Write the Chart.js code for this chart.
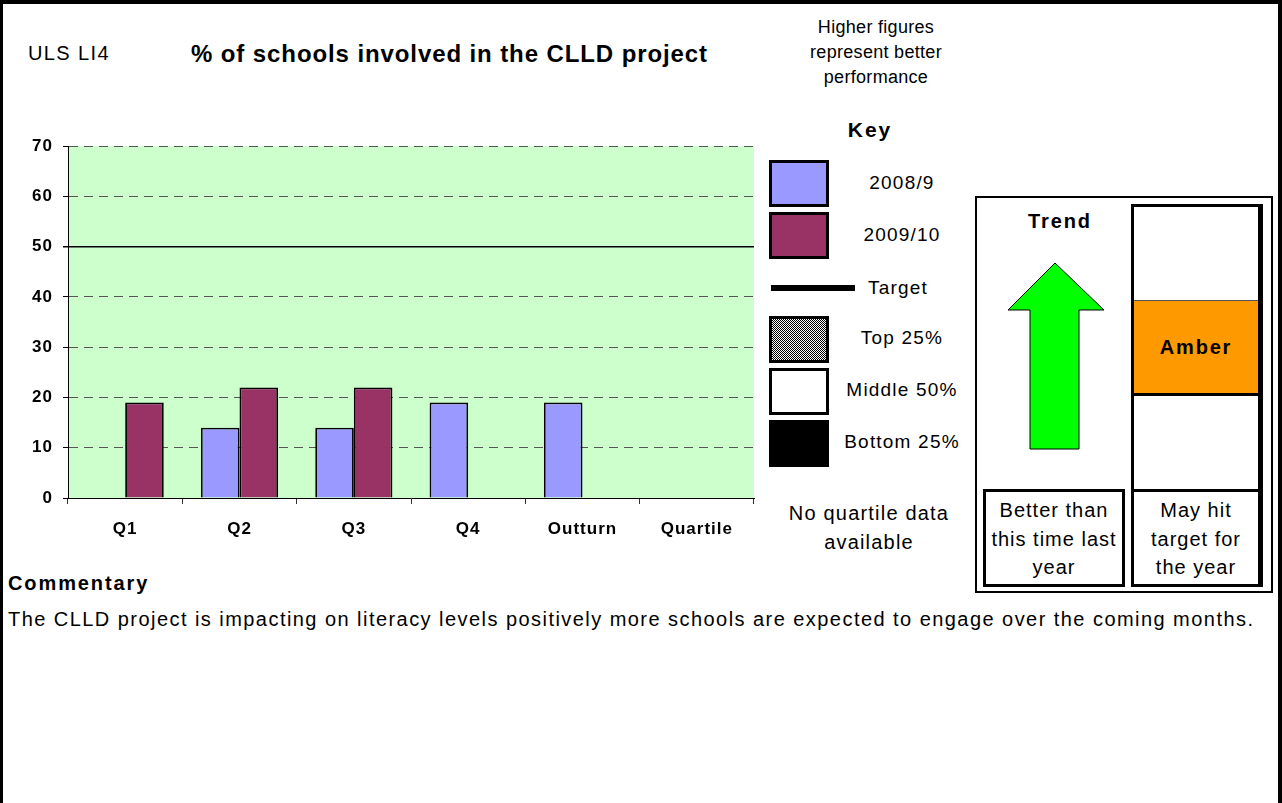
<!DOCTYPE html>
<html>
<head>
<meta charset="utf-8">
<script src="https://cdn.jsdelivr.net/npm/chart.js@4.4.0/dist/chart.umd.min.js"></script>
<style>
body{margin:0;width:1282px;height:803px;position:relative;background:#fff;font-family:"Liberation Sans",Arial,sans-serif;overflow:hidden}
#frame{position:absolute;left:0;top:0;width:1282px;height:803px;box-sizing:border-box;border-top:4px solid #000;border-left:3px solid #000;border-right:4px solid #000}
.t{position:absolute;white-space:nowrap;color:#000}
.c{text-align:center}
.k{font-size:19px;line-height:24px;letter-spacing:1.2px}
.sw{position:absolute;left:769px;width:60px;height:47px;box-sizing:border-box;border:3px solid #000}
#chartbox{position:absolute;left:0;top:126px;width:760px;height:420px}
.box{position:absolute;box-sizing:border-box;border:2px solid #000;background:#fff}
</style>
</head>
<body>
<div id="frame"></div>

<div class="t" style="left:28px;top:41px;font-size:20px;line-height:24px;letter-spacing:1.4px">ULS LI4</div>
<div class="t" style="left:191px;top:40px;font-size:24px;line-height:28px;font-weight:bold;letter-spacing:0.9px">% of schools involved in the CLLD project</div>
<div class="t c" style="left:776px;width:200px;top:15px;font-size:18px;line-height:25px;letter-spacing:0.3px">Higher figures<br>represent better<br>performance</div>

<div id="chartbox"><canvas id="mycanvas" width="760" height="420"></canvas></div>

<!-- key -->
<div class="t c" style="left:820px;width:100px;top:117px;font-size:21px;line-height:25px;font-weight:bold;letter-spacing:2px">Key</div>
<div class="sw" style="top:160px;background:#9999FF"></div>
<div class="sw" style="top:212px;background:#993366"></div>
<div style="position:absolute;left:771px;top:285px;width:84px;height:6px;background:#000"></div>
<div class="sw" style="top:316px;background-color:#fff;background-image:repeating-conic-gradient(#000 0 25%,#fff 0 50%);background-size:2px 2px"></div>
<div class="sw" style="top:368px;background:#fff"></div>
<div class="sw" style="top:420px;background:#000"></div>
<div class="t c k" style="left:832px;width:140px;top:171px">2008/9</div>
<div class="t c k" style="left:832px;width:140px;top:223px">2009/10</div>
<div class="t c k" style="left:832px;width:132px;top:276px">Target</div>
<div class="t c k" style="left:832px;width:140px;top:326px">Top 25%</div>
<div class="t c k" style="left:832px;width:140px;top:378px">Middle 50%</div>
<div class="t c k" style="left:832px;width:140px;top:430px">Bottom 25%</div>
<div class="t c" style="left:769px;width:200px;top:499px;font-size:20px;line-height:29px;letter-spacing:1.2px">No quartile data<br>available</div>

<!-- trend / status -->
<div class="box" style="left:975px;top:196px;width:298px;height:397px"></div>
<div class="t c" style="left:990px;width:140px;top:209px;font-size:20px;line-height:24px;font-weight:bold;letter-spacing:1.9px">Trend</div>
<svg style="position:absolute;left:1000px;top:255px" width="115" height="205">
  <polygon points="55,8 104,55 79,55 79,194 30,194 30,55 8,55" fill="#00FF00" stroke="#000" stroke-width="1"/>
</svg>
<div class="box" style="left:1131px;top:204px;width:132px;height:288px;border-width:3px;border-right-width:5px"></div>
<div style="position:absolute;left:1134px;top:300px;width:124px;height:96px;box-sizing:border-box;background:#FF9900;border-top:1px solid #555;border-bottom:3px solid #000"></div>
<div class="t c" style="left:1134px;width:124px;top:335px;font-size:20px;line-height:24px;font-weight:bold;letter-spacing:1.8px">Amber</div>
<div class="box" style="left:983px;top:489px;width:142px;height:98px;border-width:3px"></div>
<div class="box" style="left:1131px;top:489px;width:132px;height:98px;border-width:3px;border-right-width:5px"></div>
<div class="t c" style="left:983px;width:142px;top:496px;font-size:20px;line-height:28.5px;letter-spacing:1px">Better than<br>this time last<br>year</div>
<div class="t c" style="left:1131px;width:130px;top:496px;font-size:20px;line-height:28.5px;letter-spacing:1px">May hit<br>target for<br>the year</div>

<div class="t" style="left:8px;top:571px;font-size:20px;line-height:24px;font-weight:bold;letter-spacing:1.9px">Commentary</div>
<div class="t" style="left:8px;top:607px;font-size:20px;line-height:24px;letter-spacing:1.45px">The CLLD project is impacting on literacy levels positively more schools are expected to engage over the coming months.</div>

<script>
var categories = ["Q1", "Q2", "Q3", "Q4", "Outturn", "Quartile"];
var year0809 = [null, 14, 14, 19, 19, null];
var year0910 = [19, 22, 22, null, null, null];
var target = 50;
var yMin = 0;
var yMax = 70;
var yStep = 10;

var plotBg = {
	id: 'plotBg',
	beforeDraw: function(chart) {
		var a = chart.chartArea;
		chart.ctx.letterSpacing = '1px';
		chart.ctx.save();
		chart.ctx.fillStyle = '#CCFFCC';
		chart.ctx.fillRect(a.left, a.top, a.right - a.left, a.bottom - a.top);
		chart.ctx.restore();
	}
};

var chartdata = {
	labels: categories,
	datasets: [
		{
			label: "2008/9",
			backgroundColor: "#9999FF",
			borderColor: "#000",
			borderWidth: 1.8,
			categoryPercentage: 0.675,
			barPercentage: 1,
			data: year0809
		},
		{
			label: "2009/10",
			backgroundColor: "#993366",
			borderColor: "#000",
			borderWidth: 1.8,
			categoryPercentage: 0.675,
			barPercentage: 1,
			data: year0910
		}
	]
};

var ctx = document.getElementById('mycanvas');

var BarGraph = new Chart(ctx, {
	type: 'bar',
	data: chartdata,
	plugins: [plotBg],
	options: {
		responsive: false,
		animation: false,
		layout: { padding: { top: 20, right: 6, left: 0, bottom: 0 } },
		plugins: { legend: { display: false }, tooltip: { enabled: false } },
		scales: {
			x: {
				afterFit: function(s) { s.height = 48; },
				grid: { offset: true, drawOnChartArea: false, tickLength: 6, tickColor: '#333', tickWidth: 1 },
				border: { display: true, color: '#000', width: 1 },
				ticks: { color: '#000', padding: 15, font: { family: '"Liberation Sans", Arial', size: 17, weight: 'bold' } }
			},
			y: {
				min: yMin,
				max: yMax,
				afterFit: function(s) { s.width = 68; },
				grid: {
					color: function(c) { return c.tick && c.tick.value === target ? '#000' : '#555'; },
					lineWidth: function(c) { return c.tick && c.tick.value === target ? 1.5 : 1; },
					tickColor: '#000',
					tickLength: 5
				},
				border: {
					display: true, color: '#000', width: 1,
					dash: function(c) { return c.tick && c.tick.value !== target ? [9, 6] : []; }
				},
				ticks: { stepSize: yStep, color: '#000', padding: 10, font: { family: '"Liberation Sans", Arial', size: 17, weight: 'bold' } }
			}
		}
	}
});
</script>
</body>
</html>
